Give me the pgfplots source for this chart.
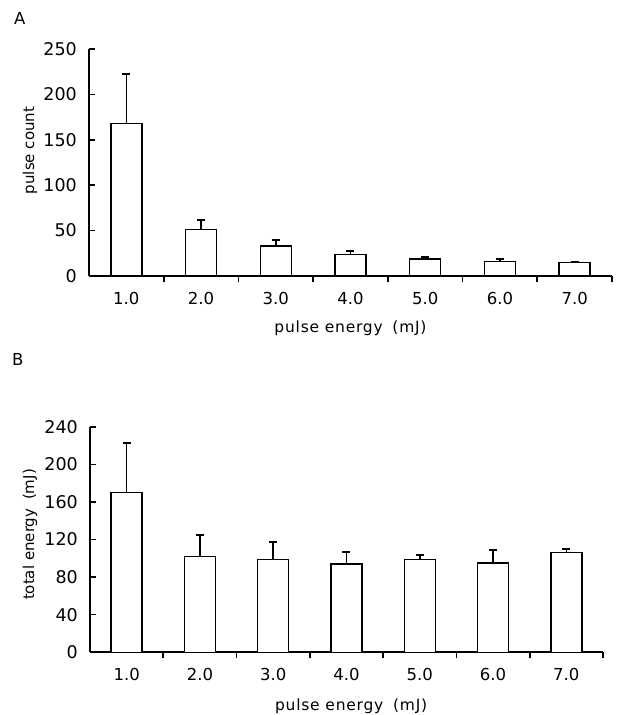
\documentclass[border=0pt]{standalone}
\usepackage{fontspec}
\setmainfont{DejaVu Sans}
\newfontfamily\lblfont[LetterSpace=5]{DejaVu Sans}
\usepackage{pgfplots}
\pgfplotsset{compat=1.18}
\pgfplotsset{panel/.style={
  scale only axis,
  axis x line=bottom, axis y line=left,
  axis line style={-, line width=1.8pt, black},
  xmin=0.5, xmax=7.5,
  xtick={1.5,2.5,3.5,4.5,5.5,6.5,7.5},
  xticklabels={},
  extra x ticks={1,2,3,4,5,6,7},
  extra x tick labels={1.0,2.0,3.0,4.0,5.0,6.0,7.0},
  extra x tick style={major tick length=0pt},
  every tick/.style={line width=1.6pt, black},
  major tick length=6pt,
  tick align=inside,
  ymin=0,
  /pgf/number format/assume math mode=true,
  xticklabel style={font=\fontsize{16.5}{19}\selectfont, anchor=center, inner sep=0pt, yshift=-22pt},
  yticklabel style={font=\fontsize{17.5}{19}\selectfont, anchor=east, inner sep=0pt, xshift=-12pt},
  every axis x label/.style={at={(axis description cs:0.5,0)}, anchor=center, yshift=-52pt,
    font=\lblfont\fontsize{15.5}{18}\selectfont},
  every axis y label/.style={at={(axis description cs:0,0.5)}, rotate=90, anchor=center, yshift=59pt,
    font=\fontsize{15}{18}\selectfont},
  xlabel={pulse energy\hspace{4pt} (mJ)},
  ybar, bar width=31pt, bar shift=0pt,
  anchor=south west,
}}
\begin{document}
\begin{tikzpicture}
\path[use as bounding box] (0pt,0pt) rectangle (624pt,715pt);
\node[anchor=south west, inner sep=0pt, font=\fontsize{16.5}{20}\selectfont] at (14pt,690pt) {A};
\node[anchor=south west, inner sep=0pt, font=\fontsize{16.5}{20}\selectfont] at (12pt,349pt) {B};
\begin{axis}[panel, at={(89pt,439pt)}, width=523pt, height=227pt,
  ymax=250, ytick={0,50,100,150,200,250}, ylabel={pulse count},
  every axis y label/.append style={at={(axis description cs:0,0.553)}}]
\addplot[draw=black, fill=white, line width=1.3pt,
  error bars/.cd, y dir=plus, y explicit,
  error bar style={line width=1.5pt, black},
  error mark options={rotate=90, line width=2pt, mark size=4pt, black}]
  coordinates {(1,168) +- (0,55) (2,51) +- (0,11) (3,33) +- (0,6.6)
  (4,24) +- (0,4) (5,18.7) +- (0,2.3) (6,15.8) +- (0,2.6) (7,14.7) +- (0,0.5)};
\end{axis}
\begin{axis}[panel, at={(90pt,62.7pt)}, width=513pt, height=225.6pt,
  ymax=240, ytick={0,40,80,120,160,200,240}, ylabel={total energy\hspace{4pt} (mJ)},
  every axis y label/.append style={at={(axis description cs:0,0.522)}, yshift=1pt},
  every axis x label/.append style={at={(axis description cs:0.509,0)}, yshift=-2pt}]
\addplot[draw=black, fill=white, line width=1.3pt,
  error bars/.cd, y dir=plus, y explicit,
  error bar style={line width=1.5pt, black},
  error mark options={rotate=90, line width=2pt, mark size=4pt, black}]
  coordinates {(1,170) +- (0,53) (2,102) +- (0,23) (3,99) +- (0,18)
  (4,94) +- (0,13) (5,99) +- (0,5) (6,95) +- (0,14) (7,106) +- (0,4)};
\end{axis}
\end{tikzpicture}
\end{document}
